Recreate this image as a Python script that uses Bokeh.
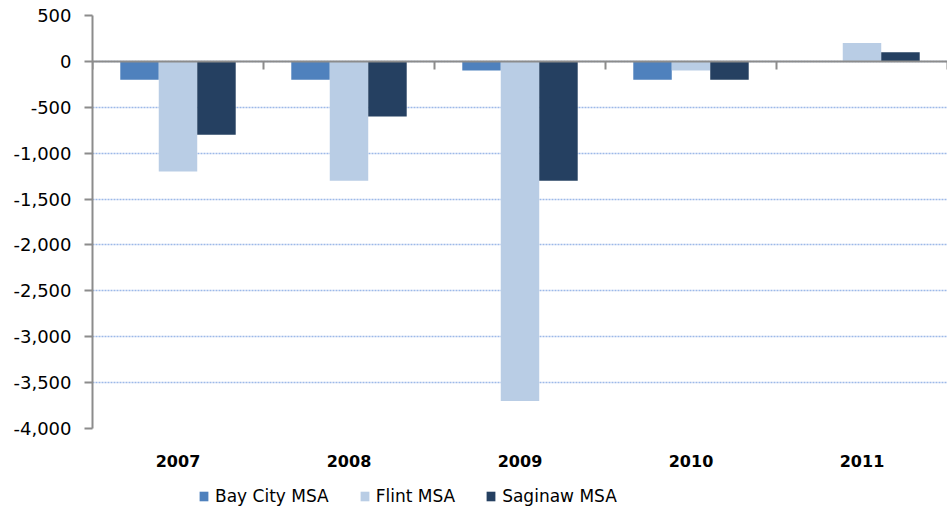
import math
from bokeh.plotting import figure
from bokeh.layouts import column
from bokeh.models import (FixedTicker, NumeralTickFormatter, Legend, Span,
                          LegendItem, Range1d, ColumnDataSource)
from bokeh.transform import dodge
from bokeh.embed import file_html
from bokeh.resources import INLINE

years = ["2007", "2008", "2009", "2010", "2011"]
bay_city = [-200, -200, -100, -200, 0]
flint = [-1200, -1300, -3700, -100, 200]
saginaw = [-800, -600, -1300, -200, 100]
y_ticks = [-4000, -3500, -3000, -2500, -2000, -1500, -1000, -500, 0, 500]

series_names = ["Bay City MSA", "Flint MSA", "Saginaw MSA"]
colors = ["#4f81bd", "#b9cde5", "#254061"]

idx = list(range(len(years)))
bounds = [i - 0.5 for i in range(len(years) + 1)]
source = ColumnDataSource(dict(x=idx, bay=bay_city, flint=flint, saginaw=saginaw))

FONT = "DejaVu Sans"
AXIS_GREY = "#8c8c8c"

p = figure(width=947, height=470, output_backend="svg", toolbar_location=None,
           x_range=Range1d(-0.5, 4.5), y_range=Range1d(-4000, 500),
           min_border_left=92, min_border_right=0, min_border_top=15, min_border_bottom=42)
p.outline_line_color = None

bw = 0.225
offsets = [-bw, 0, bw]
fields = ["bay", "flint", "saginaw"]
for off, col, c in zip(offsets, fields, colors):
    p.vbar(x=dodge("x", off), top=col, bottom=0, width=bw, source=source,
           fill_color=c, line_color=None)

# y axis
p.yaxis.ticker = FixedTicker(ticks=y_ticks)
p.yaxis.formatter = NumeralTickFormatter(format="0,0")
p.yaxis.axis_line_color = AXIS_GREY
p.yaxis.axis_line_width = 2
p.yaxis.major_tick_line_color = AXIS_GREY
p.yaxis.major_tick_line_width = 2
p.yaxis.major_tick_out = 8
p.yaxis.major_tick_in = 0
p.yaxis.minor_tick_line_color = None
p.yaxis.major_label_standoff = 13
p.yaxis.major_label_text_font = FONT
p.yaxis.major_label_text_font_size = "18px"
p.yaxis.major_label_text_color = "#000000"

p.ygrid.grid_line_color = "#9db9e8"
p.ygrid.grid_line_width = 1.5
p.ygrid.grid_line_dash = "2 1"
p.xgrid.visible = False

# year labels axis (bottom)
p.xaxis.ticker = FixedTicker(ticks=idx)
p.xaxis.major_label_overrides = {i: y for i, y in zip(idx, years)}
p.xaxis.axis_line_color = None
p.xaxis.major_tick_line_color = None
p.xaxis.minor_tick_line_color = None
p.xaxis.major_label_standoff = 20
p.xaxis.major_label_text_font = FONT
p.xaxis.major_label_text_font_style = "bold"
p.xaxis.major_label_text_font_size = "16px"
p.xaxis.major_label_text_color = "#000000"

# zero line with category-boundary ticks
p.add_layout(Span(location=0, dimension="width", line_color=AXIS_GREY, line_width=2))
p.ray(x=bounds, y=[0] * len(bounds), length=8, length_units="screen",
      angle=-math.pi / 2, line_color=AXIS_GREY, line_width=2)

# legend strip below the chart (series drawn out of view, only the legend shows)
leg = figure(width=947, height=44, output_backend="svg", toolbar_location=None,
             x_axis_type=None, y_axis_type=None,
             x_range=Range1d(-0.5, 4.5), y_range=Range1d(100000, 100001),
             min_border_left=0, min_border_right=0, min_border_top=0, min_border_bottom=0)
leg.outline_line_color = None
leg.xgrid.visible = False
leg.ygrid.visible = False
leg_renderers = [leg.vbar(x=dodge("x", off), top=col, bottom=0, width=bw, source=source,
                          fill_color=c, line_color=None)
                 for off, col, c in zip(offsets, fields, colors)]
legend = Legend(items=[LegendItem(label=n, renderers=[r]) for n, r in zip(series_names, leg_renderers)],
                orientation="horizontal", location=(106, 8),
                label_text_font=FONT, label_text_font_size="17px", label_text_color="#000000",
                glyph_width=11, glyph_height=12, label_standoff=6, spacing=30,
                padding=2, margin=0, border_line_color=None, background_fill_alpha=0)
leg.add_layout(legend, "center")

layout = column(p, leg, spacing=0)
open("out.html", "w").write(file_html(layout, INLINE))
